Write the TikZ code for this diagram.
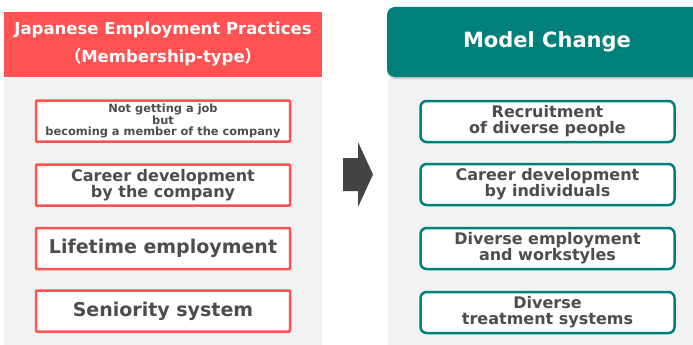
\documentclass[tikz,border=0pt]{standalone}
\usepackage{fontspec}
\setmainfont{DejaVu Sans}
\newfontfamily\cjk{Noto Sans CJK JP}
\usepackage{tikz}
\usetikzlibrary{shadows}
\definecolor{oldred}{RGB}{255,82,82}
\definecolor{newteal}{RGB}{0,128,122}
\definecolor{panelgrey}{RGB}{242,242,242}
\definecolor{textgrey}{RGB}{77,77,77}
\definecolor{arrowgrey}{RGB}{68,68,68}
\newcommand{\boxfont}{\fontsize{16}{16}\selectfont\bfseries}
\newcommand{\bigboxfont}{\fontsize{19}{19}\selectfont\bfseries}
\newcommand{\smallboxfont}{\fontsize{11.4}{11}\selectfont\bfseries}
\tikzstyle{itembox}=[draw, line width=2.5pt, fill=white, text=textgrey, align=center,
                     inner sep=0, minimum width=254pt, minimum height=41pt, font=\boxfont]
\tikzstyle{oldbox}=[itembox, draw=oldred, rounded corners=1pt]
\tikzstyle{newbox}=[itembox, draw=newteal, rounded corners=6pt]
\tikzstyle{oldhead}=[fill=oldred, text=white, align=center, inner sep=0,
                     minimum width=318pt, minimum height=65pt,
                     font=\fontsize{16.5}{28}\selectfont\bfseries]
\tikzstyle{newhead}=[fill=newteal, text=white, inner sep=0, rounded corners=8pt,
                     minimum width=320pt, minimum height=70pt,
                     drop shadow={shadow xshift=0pt, shadow yshift=-2pt, opacity=0.35},
                     font=\fontsize{21}{21}\selectfont\bfseries]
\begin{document}
\begin{tikzpicture}[x=1pt, y=-1pt]
    \useasboundingbox (0, 0) rectangle (693, 345);
    % Background panels.
    \fill[panelgrey] (4, 77) rectangle (322, 345);
    \fill[panelgrey] (388, 78) rectangle (693, 345);
    % Headers.
    \node[oldhead] (OH) at (163, 44.5) {Japanese Employment Practices\\{\cjk （}Membership-type{\cjk ）}};
    \node[newhead] (NH) at (547, 42) {Model Change};
    % Old practices.
    \node[oldbox, font=\smallboxfont] (O1) at (163, 121) {Not getting a job\\but\\becoming a member of the company};
    \node[oldbox]                     (O2) at (163, 185) {Career development\\by the company};
    \node[oldbox, font=\bigboxfont]   (O3) at (163, 248.5) {Lifetime employment};
    \node[oldbox, font=\bigboxfont]   (O4) at (163, 311) {Seniority system};
    % New model.
    \node[newbox] (N1) at (547.5, 121.5) {Recruitment\\of diverse people};
    \node[newbox] (N2) at (547.5, 184.5) {Career development\\by individuals};
    \node[newbox] (N3) at (547.5, 248.5) {Diverse employment\\and workstyles};
    \node[newbox] (N4) at (547.5, 312.5) {Diverse\\treatment systems};
    % Big arrow in between.
    \fill[arrowgrey] (343, 158) -- (358, 158) -- (358, 142) -- (373, 174.5)
        -- (358, 207) -- (358, 191) -- (343, 191) -- cycle;
\end{tikzpicture}
\end{document}
